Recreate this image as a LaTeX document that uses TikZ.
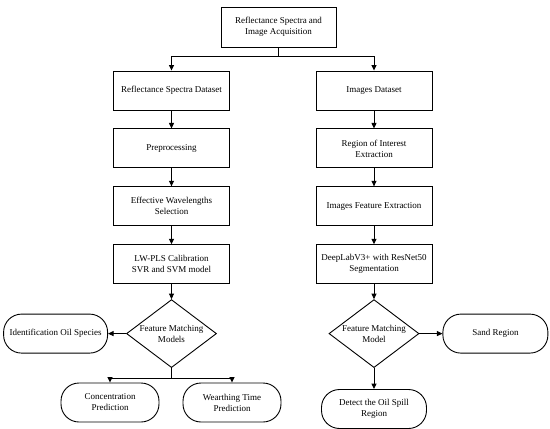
\documentclass[tikz,border=0pt]{standalone}
\usepackage{fontspec}
\setmainfont{Liberation Serif}
\usepackage{tikz}
\usetikzlibrary{positioning, shapes.geometric, arrows.meta}

\begin{document}
\begin{tikzpicture}[
    x=1pt, y=-1pt,
    node distance=18pt,
    box/.style={
        rectangle,
        draw,
        line width=0.9pt,
        minimum width=116pt,
        minimum height=39pt,
        inner sep=2pt,
        align=center,
        font=\fontsize{9}{11}\selectfont
    },
    decision/.style={
        diamond,
        draw,
        line width=0.9pt,
        minimum width=90pt,
        minimum height=68pt,
        inner sep=0pt
    },
    result/.style={
        rectangle,
        rounded corners=18pt,
        draw,
        line width=0.9pt,
        minimum width=104pt,
        minimum height=39pt,
        inner sep=2pt,
        align=center,
        font=\fontsize{9}{11}\selectfont
    },
    arr/.style={line width=0.9pt, -{Triangle[length=5.5pt,width=5pt]}},
    lbl/.style={align=center, font=\fontsize{9}{11}\selectfont}
]
\useasboundingbox (0,0) rectangle (550,429);

% Acquisition
\node[box, minimum width=115pt, minimum height=40pt] (acq) at (278.5, 27) {
    Reflectance Spectra and\\Image Acquisition
};

% Spectra branch
\node[box] (spec) at (171.5, 90.5) {Reflectance Spectra Dataset};
\node[box, below=of spec] (prep) {Preprocessing};
\node[box, below=of prep] (wave) {Effective Wavelengths\\Selection};
\node[box, below=of wave] (model) {LW-PLS Calibration\\SVR and SVM model};
\node[decision, below=15pt of model,
      label={[lbl]center:Feature Matching\\Models}] (fmspec) {};

% Image branch
\node[box] (img) at (374, 90.5) {Images Dataset};
\node[box, below=of img] (roi) {Region of Interest\\Extraction};
\node[box, below=of roi] (feat) {Images Feature Extraction};
\node[box, below=of feat] (seg) {DeepLabV3+ with ResNet50\\Segmentation};
\node[decision, below=15pt of seg,
      label={[lbl]center:Feature Matching\\Model}] (fmimg) {};

% Results
\node[result, left=18pt of fmspec] (species) {Identification Oil Species};
\node[result, minimum width=98pt] (conc) at (110, 402.5) {Concentration\\Prediction};
\node[result, minimum width=98pt] (wear) at (232, 402.5) {Wearthing Time\\Prediction};
\node[result, minimum width=105pt, right=23pt of fmimg] (sand) {Sand Region};
\node[result, minimum width=105pt, below=21pt of fmimg] (spill) {Detect the Oil Spill\\Region};

% Connectors
\draw[arr] (acq.south) -- ++(0,9) -| (spec.north);
\draw[arr] (acq.south) -- ++(0,9) -| (img.north);
\draw[arr] (spec) -- (prep);
\draw[arr] (prep) -- (wave);
\draw[arr] (wave) -- (model);
\draw[arr] (model) -- (fmspec);
\draw[arr] (img) -- (roi);
\draw[arr] (roi) -- (feat);
\draw[arr] (feat) -- (seg);
\draw[arr] (seg) -- (fmimg);
\draw[arr] (fmspec) -- (species);
\coordinate (lsplit) at ([yshift=-10pt]fmspec.south);
\draw[line width=0.9pt] (fmspec.south) -- (lsplit);
\draw[arr] (lsplit) -| (conc.north);
\draw[arr] (lsplit) -| (wear.north);
\draw[arr] (fmimg) -- (sand);
\draw[arr] (fmimg) -- (spill);

\end{tikzpicture}
\end{document}
